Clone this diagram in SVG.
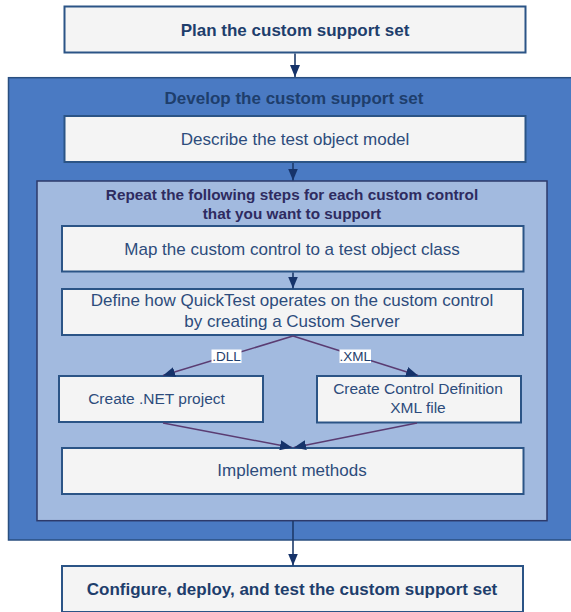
<svg xmlns="http://www.w3.org/2000/svg" width="571" height="612" viewBox="0 0 571 612">
<defs>
<style>
.node{fill:#f4f4f4;stroke:#2b5486;stroke-width:2}
.t{font-family:"Liberation Sans",Arial,sans-serif;font-size:17px;text-anchor:middle;fill:#2d4c7c}
.s{font-size:15.5px}
.b{font-weight:bold;fill:#1e3e6c}
.r{font-family:"Liberation Sans",Arial,sans-serif;font-size:15.3px;font-weight:bold;text-anchor:middle;fill:#2e2b60}
.lbl{font-family:"Liberation Sans",Arial,sans-serif;font-size:13.5px;text-anchor:middle;fill:#1e3e6c}
.v{stroke:#1d3a6a;stroke-width:1.6;fill:none}
.d{stroke:#5a3c72;stroke-width:1.5;fill:none}
</style>
<marker id="ah" viewBox="0 0 12 10" refX="12" refY="5" markerWidth="12" markerHeight="10" markerUnits="userSpaceOnUse" orient="auto">
<path d="M0,0 L12,5 L0,10 z" fill="#16336a"/>
</marker>
</defs>
<rect width="571" height="612" fill="#ffffff"/>

<g id="develop">
<rect x="8.5" y="77.7" width="570" height="462.3" fill="#4a7ac3" stroke="#2a4f80" stroke-width="1.5"/>
<text class="t b" x="294" y="104">Develop the custom support set</text>
</g>

<g id="repeat">
<rect x="37" y="181" width="510" height="339.7" fill="#a2badf" stroke="#2d3a6b" stroke-width="1.5"/>
<text class="r" x="292" y="200">Repeat the following steps for each custom control</text>
<text class="r" x="292" y="219">that you want to support</text>
</g>

<g id="plan">
<rect class="node" x="64.5" y="6.5" width="461" height="46"/>
<text class="t b" x="295" y="35.5">Plan the custom support set</text>
</g>

<g id="describe">
<rect class="node" x="64.5" y="116" width="461" height="46"/>
<text class="t" x="295" y="145">Describe the test object model</text>
</g>

<g id="map">
<rect class="node" x="62" y="226" width="461.5" height="45.5"/>
<text class="t" x="292" y="255">Map the custom control to a test object class</text>
</g>

<g id="define">
<rect class="node" x="62" y="289" width="461" height="46"/>
<text class="t" x="292" y="306">Define how QuickTest operates on the custom control</text>
<text class="t" x="292" y="327">by creating a Custom Server</text>
</g>

<g id="dotnet">
<rect class="node" x="59" y="376" width="204" height="46"/>
<text class="t s" x="156.5" y="403.5">Create .NET project</text>
</g>

<g id="xmldef">
<rect class="node" x="317" y="376" width="204" height="46.5"/>
<text class="t s" x="418" y="393.5">Create Control Definition</text>
<text class="t s" x="418" y="412.5">XML file</text>
</g>

<g id="implement">
<rect class="node" x="62" y="448" width="461.5" height="46"/>
<text class="t" x="292" y="476">Implement methods</text>
</g>

<g id="configure">
<rect class="node" x="62" y="566" width="461" height="46"/>
<text class="t b" x="292" y="595">Configure, deploy, and test the custom support set</text>
</g>

<g id="connectors">
<line class="v" x1="295" y1="53.5" x2="295" y2="77" marker-end="url(#ah)"/>
<line class="v" x1="293" y1="163" x2="293" y2="180.5" marker-end="url(#ah)"/>
<line class="v" x1="293" y1="272.5" x2="293" y2="288.5" marker-end="url(#ah)"/>
<line class="v" x1="293" y1="521" x2="293" y2="565.5" marker-end="url(#ah)"/>
<line class="d" x1="293" y1="336" x2="163" y2="375.5" marker-end="url(#ah)"/>
<line class="d" x1="293" y1="336" x2="418" y2="375.5" marker-end="url(#ah)"/>
<line class="d" x1="163" y1="423" x2="292" y2="447.5" marker-end="url(#ah)"/>
<line class="d" x1="417" y1="423" x2="294" y2="447.5" marker-end="url(#ah)"/>
<rect x="211.5" y="349.5" width="30" height="13.5" fill="#ffffff"/>
<text class="lbl" x="226.5" y="361">.DLL</text>
<rect x="339.5" y="349.5" width="31.5" height="13.5" fill="#ffffff"/>
<text class="lbl" x="355.2" y="361">.XML</text>
</g>
</svg>
